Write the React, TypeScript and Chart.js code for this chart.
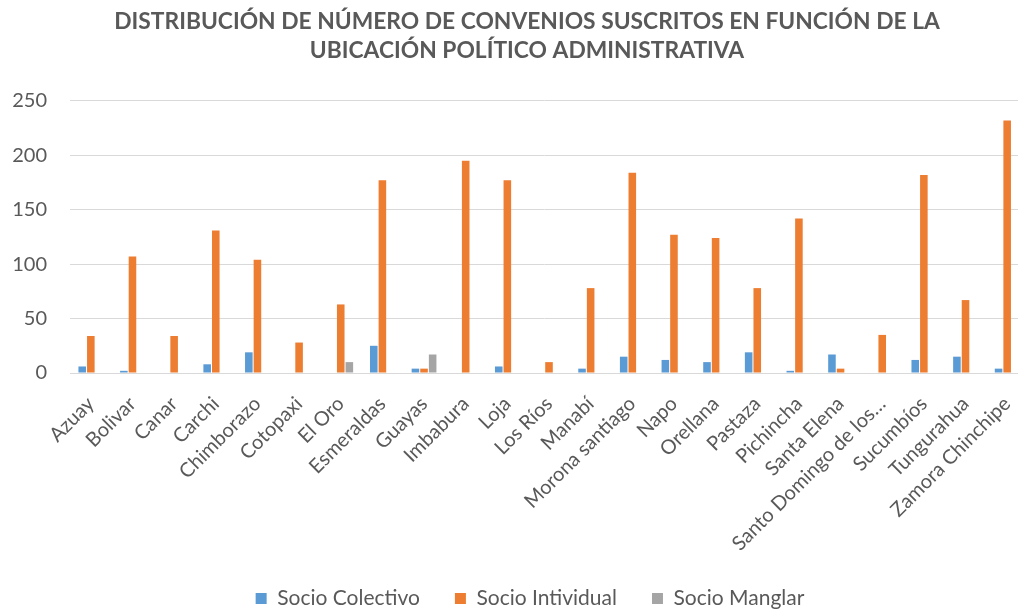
import React, { useEffect, useRef } from "react";
import { Chart, registerables } from "chart.js";

Chart.register(...registerables);

const categories = [
  "Azuay", "Bolivar", "Canar", "Carchi", "Chimborazo", "Cotopaxi", "El Oro",
  "Esmeraldas", "Guayas", "Imbabura", "Loja", "Los Ríos", "Manabí",
  "Morona santiago", "Napo", "Orellana", "Pastaza", "Pichincha", "Santa Elena",
  "Santo Domingo de los…", "Sucumbíos", "Tungurahua", "Zamora Chinchipe",
];

const socioColectivo = [6, 2, 0, 8, 19, 0, 0, 25, 4, 0, 6, 0, 4, 15, 12, 10, 19, 2, 17, 0, 12, 15, 4];
const socioIndividual = [34, 107, 34, 131, 104, 28, 63, 177, 4, 195, 177, 10, 78, 184, 127, 124, 78, 142, 4, 35, 182, 67, 232];
const socioManglar = [0, 0, 0, 0, 0, 0, 10, 0, 17, 0, 0, 0, 0, 0, 0, 0, 0, 0, 0, 0, 0, 0, 0];

const yTicks = [0, 50, 100, 150, 200, 250];

const titleLines = [
  "DISTRIBUCIÓN DE NÚMERO DE CONVENIOS SUSCRITOS EN FUNCIÓN DE LA",
  "UBICACIÓN POLÍTICO ADMINISTRATIVA",
];

const FONT = "Lato, 'Open Sans', sans-serif";
const TEXT = "#595959";

// The original plot area runs past the right edge of the picture.
const PLOT_RIGHT = 1028;

const adjustLayout = {
  id: "adjustLayout",
  afterLayout(chart: any) {
    if (chart.titleBlock) chart.titleBlock.left = 36;
    if (chart.legend) chart.legend.left = 42;
    const x = chart.scales.x;
    x.right = PLOT_RIGHT;
    x.width = PLOT_RIGHT - x.left;
    x.configure();
    chart.chartArea.right = PLOT_RIGHT;
    chart.chartArea.width = PLOT_RIGHT - chart.chartArea.left;
  },
};

export default function App() {
  const ref = useRef<HTMLCanvasElement | null>(null);

  useEffect(() => {
    document.body.style.margin = "0";
    if (!ref.current) return;
    const chart = new Chart(ref.current, {
      type: "bar",
      data: {
        labels: categories,
        datasets: [
          { label: "Socio Colectivo", data: socioColectivo, backgroundColor: "#5B9BD5" },
          { label: "Socio Intividual", data: socioIndividual, backgroundColor: "#ED7D31" },
          { label: "Socio Manglar", data: socioManglar, backgroundColor: "#A5A5A5" },
        ],
      },
      plugins: [adjustLayout],
      options: {
        animation: false,
        responsive: false,
        maintainAspectRatio: false,
        datasets: {
          bar: { categoryPercentage: 0.62, barPercentage: 0.88 },
        },
        layout: { autoPadding: false, padding: { left: 10, right: 0, top: 0, bottom: -6 } },
        plugins: {
          tooltip: { enabled: false },
          title: {
            display: true,
            text: titleLines,
            color: TEXT,
            font: { family: FONT, size: 22.8, weight: "bold", lineHeight: 1.27 },
            padding: { top: 7, bottom: 36 },
          },
          legend: {
            position: "bottom",
            labels: {
              color: TEXT,
              font: { family: FONT, size: 21 },
              boxWidth: 11,
              boxHeight: 11,
              padding: 35,
            },
          },
        },
        scales: {
          x: {
            grid: { display: false },
            border: { display: false },
            ticks: {
              color: TEXT,
              font: { family: FONT, size: 20 },
              minRotation: 45,
              maxRotation: 45,
              autoSkip: false,
              padding: 11,
            },
            afterFit: (scale: any) => {
              scale.height = 180;
              scale.paddingLeft = 0;
              scale.paddingRight = 0;
            },
          },
          y: {
            min: 0,
            max: 250,
            afterBuildTicks: (scale: any) => {
              scale.ticks = yTicks.map((v) => ({ value: v }));
            },
            grid: { color: "#D9D9D9", lineWidth: 1, drawTicks: false },
            border: { display: false },
            ticks: {
              color: TEXT,
              font: { family: FONT, size: 20 },
              padding: 23,
            },
            afterFit: (scale: any) => {
              scale.width = 60;
            },
          },
        },
      },
    });
    return () => chart.destroy();
  }, []);

  return (
    <div style={{ position: "absolute", left: 0, top: 0, width: 1018, height: 613, background: "#fff" }}>
      <canvas ref={ref} width={1018} height={613} style={{ width: 1018, height: 613 }} />
    </div>
  );
}
